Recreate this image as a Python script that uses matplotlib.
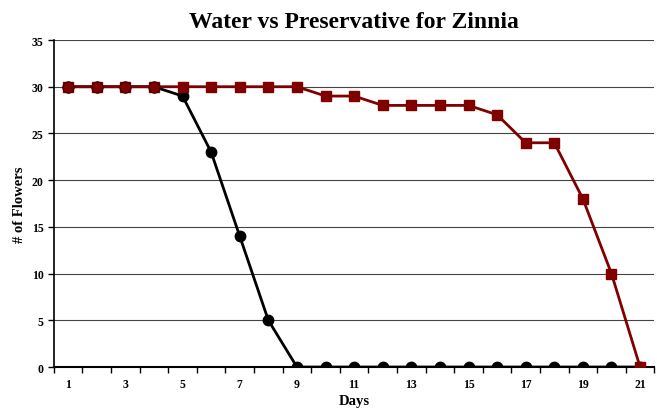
import matplotlib.pyplot as plt
import numpy as np

days = list(range(1, 22))
water = [30, 30, 30, 30, 29, 23, 14, 5, 0, 0, 0, 0, 0, 0, 0, 0, 0, 0, 0, 0, 0]
preservative = [30, 30, 30, 30, 30, 30, 30, 30, 30, 29, 29, 28, 28, 28, 28, 27, 24, 24, 18, 10, 0]
x_labels = [str(d) if d % 2 == 1 else "" for d in days]

RED = "#800000"

plt.rcParams["font.family"] = ["Liberation Serif", "DejaVu Serif"]
plt.rcParams["font.weight"] = "bold"

fig = plt.figure(figsize=(6.57, 4.10), dpi=100)
ax = fig.add_axes([0.082, 0.1024, 0.914, 0.7976])

for y in range(5, 36, 5):
    ax.axhline(y, color="#444444", lw=0.8, zorder=1)

ax.plot(days, water, color="black", lw=2, marker="o", ms=7.5, zorder=3)
ax.plot(days, preservative, color=RED, lw=2, marker="s", ms=6.5, zorder=4)

# where both series sit together at the top, the circle markers show in red
w = np.array(water)
p = np.array(preservative)
same = (w == p) & (w > 0)
ax.plot(np.array(days)[same], w[same], ls="none", marker="o", ms=8,
        mfc=RED, mec="#3a0000", mew=0.8, zorder=5)

ax.set_xlim(0.5, 21.5)
ax.set_ylim(0, 35)
ax.set_yticks(range(0, 36, 5))
ax.set_xticks(days)
ax.set_xticklabels(x_labels)
ax.set_xticks(np.arange(0.5, 22, 1), minor=True)
ax.tick_params(axis="x", which="major", length=0, labelsize=8.5, pad=8)
ax.tick_params(axis="x", which="minor", length=4, direction="out", width=1)
ax.tick_params(axis="y", length=4, direction="out", width=1, labelsize=8.5)

for side in ["top", "right"]:
    ax.spines[side].set_visible(False)
ax.spines["left"].set_linewidth(1.2)
ax.spines["bottom"].set_linewidth(1.5)

ax.set_title("Water vs Preservative for Zinnia", fontsize=17, fontweight="bold", pad=9)
ax.set_xlabel("Days", fontsize=10.5, fontweight="bold", labelpad=3)
ax.set_ylabel("# of Flowers", fontsize=10.5, fontweight="bold", labelpad=4)

fig.savefig("out.png", dpi=100)
